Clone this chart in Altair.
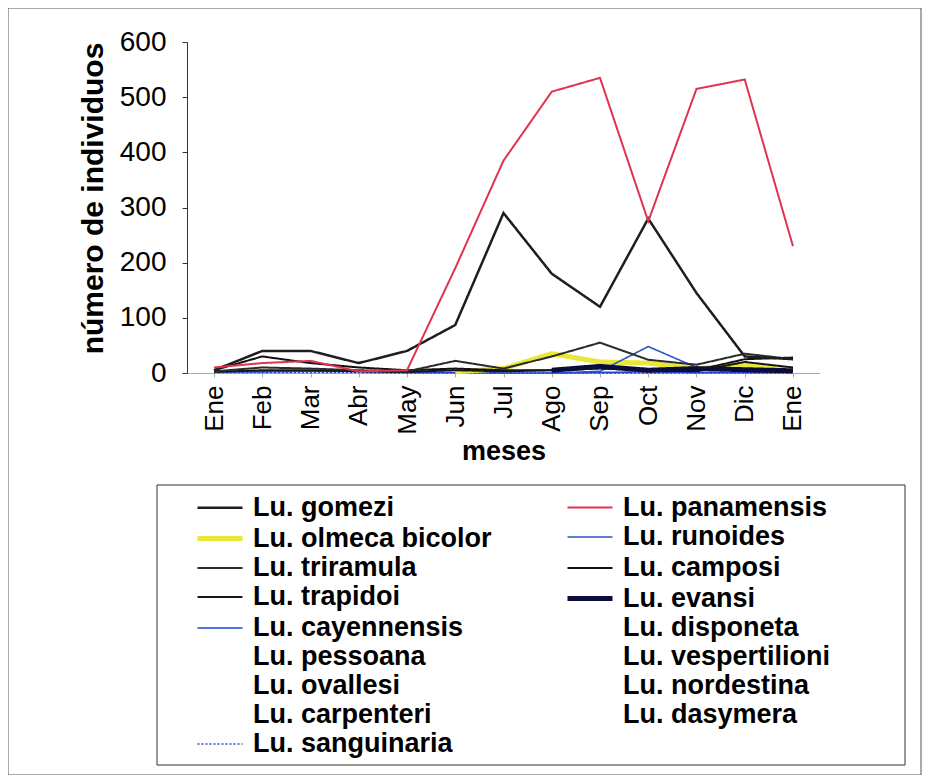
import altair as alt
import pandas as pd

months = ["Ene", "Feb", "Mar", "Abr", "May", "Jun", "Jul", "Ago", "Sep", "Oct", "Nov", "Dic", "Ene"]

# legend order (Excel row-wise, 2 columns)
species = [
    "Lu. gomezi", "Lu. panamensis", "Lu. olmeca bicolor", "Lu. runoides",
    "Lu. triramula", "Lu. camposi", "Lu. trapidoi", "Lu. evansi",
    "Lu. cayennensis", "Lu. disponeta", "Lu. pessoana", "Lu. vespertilioni",
    "Lu. ovallesi", "Lu. nordestina", "Lu. carpenteri", "Lu. dasymera",
    "Lu. sanguinaria",
]
colors = [
    "#1e1e1e", "#e0344e", "#e8e838", "#2a55c8",
    "#2a2a2a", "#111111", "#161616", "#0b0b3c",
    "#1f45d0", "white", "white", "white",
    "white", "white", "white", "white",
    "#2a48c8",
]
widths = [2.5, 2, 5, 1.6, 2, 2, 2, 5, 1.6, 1, 1, 1, 1, 1, 1, 1, 1.6]
dashes = [[1, 0]] * 16 + [[2, 2]]

# series values (None = no record)
cayennensis = [2, 2, 3, 3, 1, 1, 0, 0, 1, 2, 1, 1, 1]
sanguinaria = [1, 1, 1, 1, 0, 0, 0, 0, 0, 0, 0, 0, 0]
olmeca_bicolor = [None, None, None, None, None, 2, 8, 35, 20, 18, 8, 15, 5]
runoides = [None, None, None, None, None, None, None, 0, 3, 48, 10, None, None]
camposi = [5, 30, 18, 10, 5, 8, 5, 5, 10, 5, 5, 25, 28]
trapidoi = [2, 5, 5, 3, 2, 5, 3, 5, 8, 5, 3, 20, 10]
triramula = [3, 10, 8, 5, 3, 22, 8, 30, 55, 24, 15, 35, 25]
evansi = [None, None, None, None, None, None, None, 5, 12, 5, 8, 6, 4]
gomezi = [5, 40, 40, 18, 40, 87, 290, 180, 120, 280, 145, 30, 25]
panamensis = [10, 18, 22, 3, 5, 190, 385, 510, 535, 275, 515, 532, 230]

series = [
    ("Lu. cayennensis", cayennensis),
    ("Lu. sanguinaria", sanguinaria),
    ("Lu. olmeca bicolor", olmeca_bicolor),
    ("Lu. runoides", runoides),
    ("Lu. camposi", camposi),
    ("Lu. trapidoi", trapidoi),
    ("Lu. triramula", triramula),
    ("Lu. evansi", evansi),
    ("Lu. gomezi", gomezi),
    ("Lu. panamensis", panamensis),
]

rows = []
for name, vals in series:
    for i, v in enumerate(vals):
        if v is not None:
            rows.append({"especie": name, "mes": i, "n": v})
df = pd.DataFrame(rows)

label_expr = "[" + ",".join("'%s'" % m for m in months) + "][datum.value]"

FONT = "Liberation Sans"

lines = alt.Chart(df).mark_line().encode(
    x=alt.X("mes:O",
            scale=alt.Scale(type="point", padding=0.56),
            axis=alt.Axis(title="meses", labelExpr=label_expr, labelAngle=270,
                          labelFontSize=26, labelFont=FONT, labelColor="black",
                          labelPadding=8, tickSize=4, tickColor="#aaaaaa",
                          domainColor="#aaaaaa", titleFontSize=27, titleFont=FONT,
                          titleFontWeight="bold", titleColor="black",
                          titleY=78, titleBaseline="middle", grid=False)),
    y=alt.Y("n:Q",
            scale=alt.Scale(domain=[0, 600], nice=False),
            axis=alt.Axis(title="número de individuos", values=[0, 100, 200, 300, 400, 500, 600],
                          labelFontSize=28, labelFont=FONT, labelColor="black",
                          labelPadding=16, tickSize=5, tickColor="#333333",
                          domainColor="#333333", titleFontSize=30, titleFont=FONT,
                          titleFontWeight="bold", titleColor="black",
                          titleX=-94, titleY=156, titleBaseline="middle", grid=False)),
    color=alt.Color("especie:N",
                    scale=alt.Scale(domain=species, range=colors),
                    legend=alt.Legend(orient="none", legendX=23, legendY=449, columns=2,
                                      direction="horizontal",
                                      columnPadding=65, rowPadding=0,
                                      symbolType="M-2,0H1",
                                      symbolSize=900, labelFontSize=27, labelFont=FONT,
                                      labelFontWeight="bold", labelColor="black",
                                      labelOffset=8, labelLimit=400, title=None, padding=0)),
    strokeWidth=alt.StrokeWidth("especie:N",
                                scale=alt.Scale(type="ordinal", domain=species, range=widths)),
    strokeDash=alt.StrokeDash("especie:N",
                              scale=alt.Scale(domain=species, range=dashes)),
)

box = pd.DataFrame({"k": [0]})
frame = alt.Chart(box).mark_rect(fill="transparent", stroke="#555555", strokeWidth=1).encode(
    x=alt.value(-179), x2=alt.value(734), y=alt.value(-34), y2=alt.value(733)
)
legend_box = alt.Chart(box).mark_rect(fill="transparent", stroke="#333333", strokeWidth=1).encode(
    x=alt.value(-30), x2=alt.value(718), y=alt.value(443), y2=alt.value(723)
)

chart = alt.layer(frame, legend_box, lines).properties(
    width=633, height=331,
    autosize=alt.AutoSizeParams(type="none"),
    padding={"left": 179, "top": 34, "right": 107, "bottom": 402},
    background="white",
).configure_view(stroke="transparent")

chart.save("out.html", embed_options={"renderer": "svg", "actions": False})
